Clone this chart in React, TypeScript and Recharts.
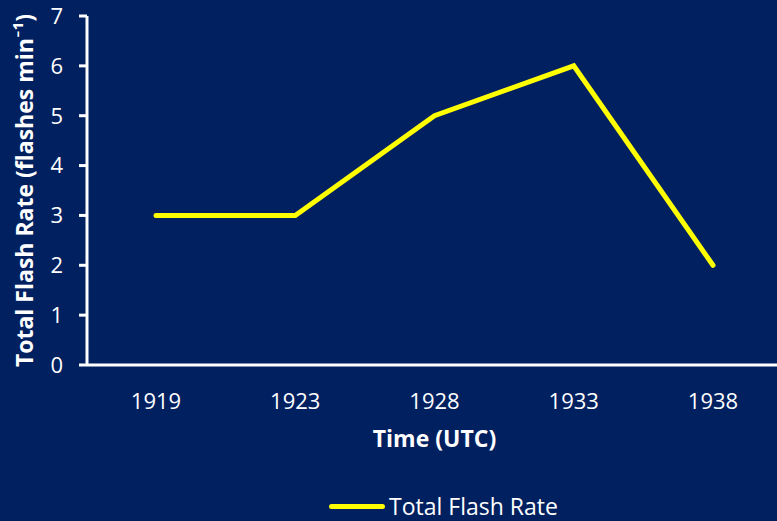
import React from 'react';
import { LineChart, Line, XAxis, YAxis, Label } from 'recharts';

const times = ['1919', '1923', '1928', '1933', '1938'];
const flashRate = [3, 3, 5, 6, 2];
const yTicks = [0, 1, 2, 3, 4, 5, 6, 7];

const data = times.map((t, i) => ({ time: t, rate: flashRate[i] }));

const BG = '#002060';
const FONT = '"Open Sans", Lato, sans-serif';

const YTitle = (props: any) => {
  const { viewBox } = props;
  const cy = viewBox.y + viewBox.height / 2;
  return (
    <text
      x={0}
      y={0}
      transform={`translate(33, ${cy}) rotate(-90)`}
      textAnchor="middle"
      fill="#fff"
      fontWeight="bold"
      fontSize={23}
      fontFamily={FONT}
    >
      Total Flash Rate (flashes min⁻¹)
    </text>
  );
};

const App: React.FC = () => {
  return (
    <div style={{ width: 777, height: 521, overflow: 'hidden', background: BG, position: 'relative' }}>
      <style>{'body{margin:0}'}</style>
      <LineChart width={782} height={521} data={data} margin={{ top: 16, right: 0, bottom: 56, left: 0 }}>
        <XAxis
          dataKey="time"
          stroke="#fff"
          strokeWidth={3}
          tickLine={false}
          tickSize={0}
          tickMargin={28}
          padding={{ left: 69, right: 69 }}
          tick={{ fill: '#fff', fontSize: 22, fontFamily: FONT }}
          height={100}
        >
          <Label value="Time (UTC)" position="insideTop" offset={66} fill="#fff" fontWeight="bold" fontSize={23} fontFamily={FONT} />
        </XAxis>
        <YAxis
          width={87}
          domain={[0, 7]}
          ticks={yTicks}
          interval={0}
          stroke="#fff"
          strokeWidth={3}
          tickSize={8}
          tickMargin={16}
          tick={{ fill: '#fff', fontSize: 22, fontFamily: FONT }}
          label={<YTitle />}
        />
        <Line
          dataKey="rate"
          stroke="#ffff00"
          strokeWidth={5}
          strokeLinecap="round"
          dot={false}
          isAnimationActive={false}
        />
      </LineChart>
      <div
        style={{
          position: 'absolute',
          left: 329,
          top: 495,
          height: 22,
          display: 'flex',
          alignItems: 'center',
          color: '#fff',
          fontFamily: FONT,
          fontSize: 23,
          lineHeight: '22px',
        }}
      >
        <span style={{ display: 'inline-block', width: 56, height: 5, borderRadius: 3, background: '#ffff00', marginRight: 4 }} />
        <span>Total Flash Rate</span>
      </div>
    </div>
  );
};

export default App;
